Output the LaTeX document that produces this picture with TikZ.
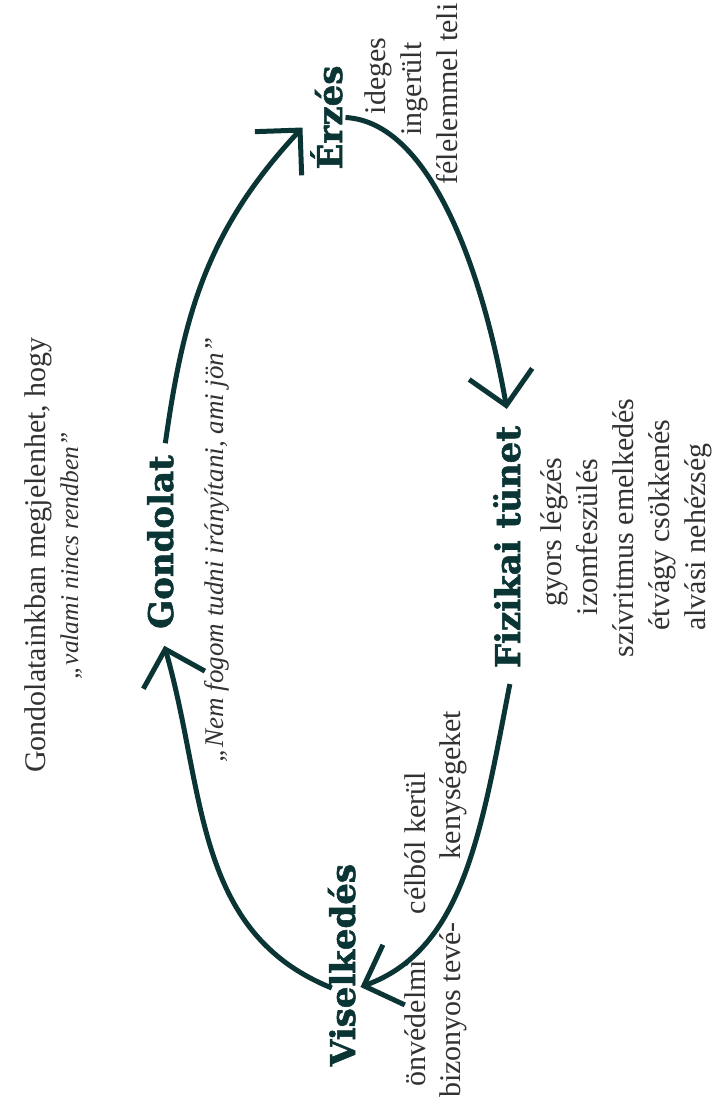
\documentclass[tikz,border=0pt]{standalone}
\usepackage{fontspec}
\setmainfont{Liberation Serif}
\newfontfamily\slab{DejaVu Serif}[BoldFeatures={FakeBold=1.6}]
\usetikzlibrary{arrows.meta,calc}
\definecolor{darkteal}{RGB}{11,53,53}
\definecolor{bodygray}{RGB}{50,50,50}
\begin{document}
\begin{tikzpicture}[x=1pt,y=-1pt,
  lbl/.style={rotate=90, anchor=base, inner sep=0pt, outer sep=0pt, text=darkteal,
    font=\slab\bfseries\fontsize{34}{40}\selectfont},
  body/.style={rotate=90, anchor=base, inner sep=0pt, outer sep=0pt, text=bodygray,
    font=\fontsize{30}{36}\selectfont},
  quote/.style={body, font=\itshape\fontsize{27}{34}\selectfont},
  cyc/.style={draw=darkteal, line width=5pt,
    -{Straight Barb[length=32pt,width=64pt,sharp]}}]
\useasboundingbox (0,0) rectangle (720,1102);
\fill[white] (0,0) rectangle (720,1102);

% main labels
\node[lbl] (erz)  at (342,117.5) {Érzés};
\node[lbl] (fiz)  at (520,547)   {Fizikai tünet};
\node[lbl] (gond) at (173,542)   {Gondolat};
\node[lbl] (vis)  at (355,965)   {Viselkedés};

% feeling
\node[body] (e1) at (385,76) {ideges};
\node[body] (e2) at (421,89) {ingerült};
\node[body] (e3) at (457,94) {félelemmel teli};

% physical symptoms
\node[body] (f1) at (561,532) {gyors légzés};
\node[body] (f2) at (597,537) {izomfeszülés};
\node[body] (f3) at (633,528) {szívritmus emelkedés};
\node[body] (f4) at (669,525) {étvágy csökkenés};
\node[body] (f5) at (705,537) {alvási nehézség};

% thought
\node[body]  (g1) at (45,555)  {Gondolatainkban megjelenhet, hogy};
\node[quote, font=\itshape\fontsize{25.5}{32}\selectfont] (g2) at (78,556) {„valami nincs rendben”};
\node[quote] (g3) at (223,550) {„Nem fogom tudni irányítani, ami jön”};

% behaviour
\node[body] (v1) at (425,1023) {önvédelmi};
\node[body] (v2) at (425,843)  {célból kerül};
\node[body] (v3) at (460,1010) {bizonyos tevé-};
\node[body] (v4) at (460,785)  {kenységeket};

% cycle
\draw[cyc] ($(gond.east)+(5,-12)$)
  to[out=82,in=227,out distance=130pt,in distance=140pt] ($(erz.north)+(-8,10)$);
\draw[cyc] ($(erz.south)+(3,0)$)
  to[out=-3,in=100,out distance=85pt,in distance=140pt] ($(fiz.east)+(0,-17)$);
\draw[cyc] ($(fiz.west)+(3,16)$)
  to[out=-101,in=20,out distance=150pt,in distance=110pt] ($(vis.south)+(5,22)$);
\draw[cyc] ($(vis.north)+(4,23)$)
  to[out=158,in=-74,out distance=150pt,in distance=150pt] ($(gond.west)+(4,17)$);
\end{tikzpicture}
\end{document}
